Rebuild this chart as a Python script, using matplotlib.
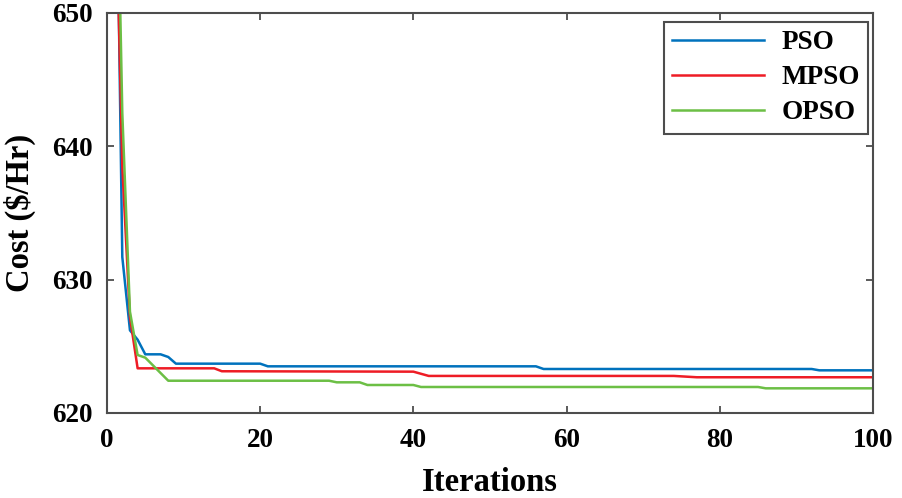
import matplotlib
matplotlib.use("Agg")
import matplotlib.pyplot as plt

# Valeurs (points de cassure des courbes)
pso_iter = [1, 2, 3, 4, 5, 7, 8, 9, 20, 21, 56, 57, 92, 93, 100]
pso_cost = [672, 631.7, 626.2, 625.5, 624.4, 624.4, 624.2, 623.7, 623.7,
            623.5, 623.5, 623.3, 623.3, 623.2, 623.2]

mpso_iter = [1, 2, 3, 4, 14, 15, 40, 42, 74, 77, 100]
mpso_cost = [663, 638.5, 627.2, 623.35, 623.35, 623.13, 623.1, 622.78,
             622.78, 622.68, 622.68]

opso_iter = [1, 2, 3, 4, 5, 8, 29, 30, 33, 34, 40, 41, 85, 86, 100]
opso_cost = [671.3, 642.5, 627.6, 624.35, 624.15, 622.42, 622.42, 622.3,
             622.3, 622.1, 622.1, 621.95, 621.95, 621.85, 621.85]

labels = ["PSO", "MPSO", "OPSO"]
colors = ["#0072BD", "#EE1C25", "#6CBF45"]

x_ticks = [0, 20, 40, 60, 80, 100]
y_ticks = [620, 630, 640, 650]

plt.rcParams["font.family"] = ["Liberation Serif", "DejaVu Serif"]
plt.rcParams["font.weight"] = "bold"

fig = plt.figure(figsize=(9.02, 4.98), dpi=100, facecolor="white")
ax = fig.add_axes([0.1186, 0.1707, 0.8492, 0.8032])

ax.plot(pso_iter, pso_cost, color=colors[0], linewidth=1.8, label=labels[0])
ax.plot(mpso_iter, mpso_cost, color=colors[1], linewidth=1.8, label=labels[1])
ax.plot(opso_iter, opso_cost, color=colors[2], linewidth=1.8, label=labels[2])

ax.set_xlim(0, 100)
ax.set_ylim(620, 650)
ax.set_xticks(x_ticks)
ax.set_yticks(y_ticks)

axis_col = "#4d4d4d"
for sp in ax.spines.values():
    sp.set_color(axis_col)
    sp.set_linewidth(1.5)
ax.tick_params(direction="in", length=5, width=1.3, color=axis_col,
               top=True, right=True, labelsize=19.5)
ax.tick_params(axis="x", pad=11)
ax.tick_params(axis="y", pad=10)
for lab in ax.get_xticklabels() + ax.get_yticklabels():
    lab.set_fontweight("bold")

ax.set_xlabel("Iterations", fontsize=23.5, fontweight="bold", labelpad=10)
ax.set_ylabel("Cost ($/Hr)", fontsize=23.5, fontweight="bold", labelpad=12)

leg = ax.legend(loc="upper right", bbox_to_anchor=(868.3 / 902, 1 - 22.3 / 498),
                bbox_transform=fig.transFigure, fancybox=False, fontsize=19.5,
                handlelength=3.4, handletextpad=0.65, labelspacing=0.37,
                borderpad=0.3, borderaxespad=0)
leg.get_frame().set_edgecolor(axis_col)
leg.get_frame().set_linewidth(1.5)
leg.get_frame().set_alpha(1)
for t in leg.get_texts():
    t.set_fontweight("bold")

fig.savefig("out.png", dpi=100, facecolor="white")
